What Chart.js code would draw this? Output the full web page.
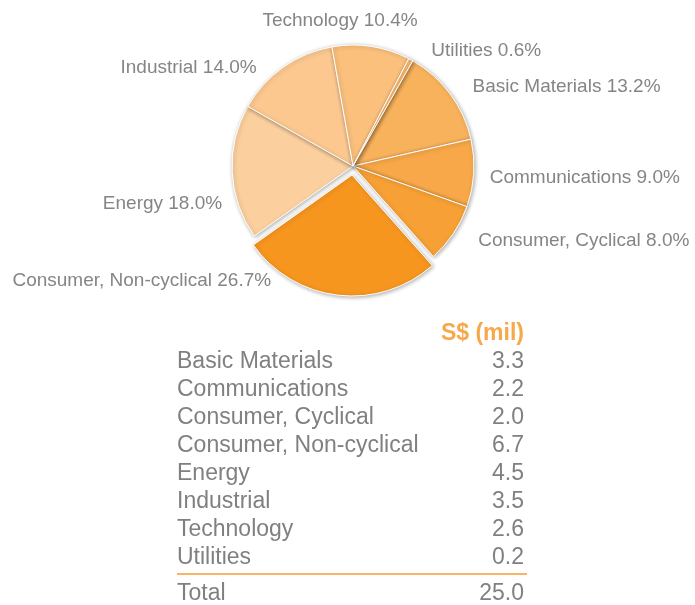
<!DOCTYPE html>
<html>
<head>
<meta charset="utf-8">
<script src="https://cdn.jsdelivr.net/npm/chart.js@4.4.1/dist/chart.umd.min.js"></script>
<style>
    body { margin: 0; background: #fff; }
    #wrap { position: relative; width: 695px; height: 605px; overflow: hidden; }
    #pie { position: absolute; left: 0; top: 0; }
    #tbl {
        position: absolute; left: 177px; top: 318px; width: 350px;
        border-collapse: collapse;
        font-family: "Liberation Sans", Arial, sans-serif; font-size: 23px; color: #808080;
    }
    #tbl td { padding: 0; height: 28px; line-height: 28px; white-space: nowrap; vertical-align: top; }
    #tbl td.v { text-align: right; padding-right: 3px; }
    #tbl th { text-align: right; padding: 0 3px 0 0; height: 28px; line-height: 28px; color: #f7a84a; font-size: 23px; font-weight: bold; }
    #tbl tr.last td { height: 31px; }
    #tbl tr.total td { border-top: 2px solid #f9b466; height: 30px; padding-top: 3px; }
</style>
</head>
<body>
<div id="wrap">
    <canvas id="pie" width="695" height="605"></canvas>
    <table id="tbl"></table>
</div>
<script>
// sectors, in the order the table lists them
const sectors = ['Basic Materials', 'Communications', 'Consumer, Cyclical', 'Consumer, Non-cyclical',
                 'Energy', 'Industrial', 'Technology', 'Utilities'];
const sharePct = [13.2, 9.0, 8.0, 26.7, 18.0, 14.0, 10.4, 0.6];
const amountMil = [3.3, 2.2, 2.0, 6.7, 4.5, 3.5, 2.6, 0.2];
const totalMil = 25.0;
const valueHeader = 'S$ (mil)';

const sliceColors = ['#f9b25c', '#f8a848', '#f7a035', '#f7961f', '#fcd09e', '#fcc890', '#fbc07c', '#fab868'];
const explodePx = [0, 0, 0, 9, 0, 0, 0, 0];

// small hand nudges so labels sit where the original put them
const labelNudge = [[8, 4], [-2, 4], [10, -3], [-65, -32], [8, 31], [-16, 15], [-34, -8], [12, 7]];

const outsideLabels = {
    id: 'outsideLabels',
    afterDatasetsDraw(chart) {
        const ctx = chart.ctx;
        const meta = chart.getDatasetMeta(0);
        ctx.save();
        ctx.font = '19px "Liberation Sans", Arial, sans-serif';
        ctx.fillStyle = '#858585';
        ctx.textBaseline = 'middle';
        meta.data.forEach((arc, i) => {
            const p = arc.getProps(['x', 'y', 'startAngle', 'endAngle', 'outerRadius'], true);
            const mid = (p.startAngle + p.endAngle) / 2;
            const r = p.outerRadius + 18 + explodePx[i];
            const c = Math.cos(mid), s = Math.sin(mid);
            const x = p.x + c * r + labelNudge[i][0];
            const y = p.y + s * r + labelNudge[i][1];
            ctx.textAlign = (s < 0 && Math.abs(c) < 0.2) ? 'center' : (c > 0 ? 'left' : 'right');
            ctx.fillText(sectors[i] + ' ' + sharePct[i].toFixed(1) + '%', x, y);
        });
        ctx.restore();
    }
};

const pieShadow = {
    id: 'pieShadow',
    beforeDatasetsDraw(chart) {
        const ctx = chart.ctx;
        ctx.save();
        ctx.shadowColor = 'rgba(0,0,0,0.32)';
        ctx.shadowBlur = 4;
        ctx.shadowOffsetX = 1;
        ctx.shadowOffsetY = 1;
    },
    afterDatasetsDraw(chart) {
        chart.ctx.restore();
    }
};

new Chart(document.getElementById('pie').getContext('2d'), {
    type: 'pie',
    data: {
        labels: sectors,
        datasets: [{
            data: sharePct,
            backgroundColor: sliceColors,
            borderColor: '#ffffff',
            borderWidth: 1,
            // arc offset is divided by 4 when drawn
            offset: explodePx.map(v => v * 4)
        }]
    },
    options: {
        responsive: false,
        animation: false,
        rotation: 29.6,
        radius: 121,
        layout: { padding: { left: 11, right: 0, top: 0, bottom: 273 } },
        plugins: {
            legend: { display: false },
            tooltip: { enabled: false }
        }
    },
    plugins: [pieShadow, outsideLabels]
});

// table under the pie
const tbl = document.getElementById('tbl');
let html = '<tr><td></td><th>' + valueHeader + '</th></tr>';
sectors.forEach((s, i) => {
    const cls = i === sectors.length - 1 ? ' class="last"' : '';
    html += '<tr' + cls + '><td>' + s + '</td><td class="v">' + amountMil[i].toFixed(1) + '</td></tr>';
});
html += '<tr class="total"><td>Total</td><td class="v">' + totalMil.toFixed(1) + '</td></tr>';
tbl.innerHTML = html;
</script>
</body>
</html>
